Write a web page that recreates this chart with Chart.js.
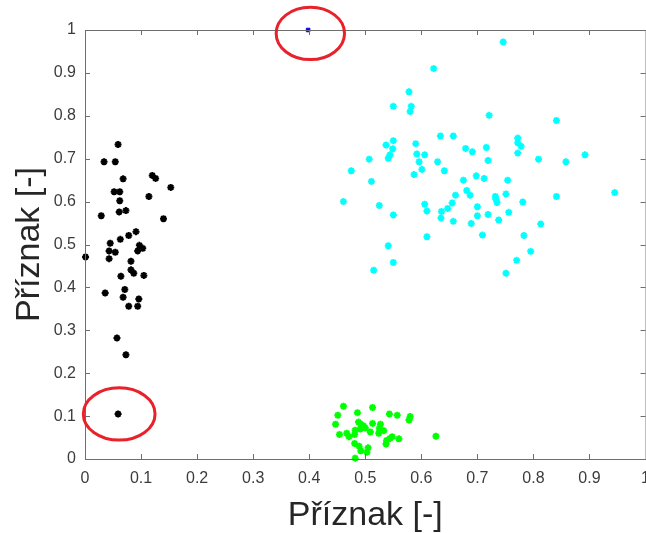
<!DOCTYPE html>
<html>
<head>
<meta charset="utf-8">
<script src="https://cdn.jsdelivr.net/npm/chart.js@4/dist/chart.umd.min.js"></script>
<style>
  html, body { margin: 0; padding: 0; background: #fff; overflow: hidden; }
  #wrap { width: 646px; height: 533px; overflow: hidden; }
</style>
</head>
<body>
<div id="wrap"><canvas id="graf" width="660" height="533"></canvas></div>
<script>
// cluster 1 (black)
const blackX = [0.059, 0.034, 0.054, 0.068, 0.120, 0.126, 0.153, 0.052, 0.062, 0.114,
  0.062, 0.029, 0.061, 0.073, 0.140, 0.091, 0.078, 0.063, 0.045, 0.097,
  0.103, 0.094, 0.043, 0.054, 0.001, 0.043, 0.082, 0.082, 0.087, 0.105,
  0.064, 0.071, 0.036, 0.068, 0.096, 0.078, 0.094, 0.057, 0.073, 0.059];
const blackY = [0.733, 0.693, 0.693, 0.653, 0.661, 0.654, 0.633, 0.623, 0.623, 0.612,
  0.602, 0.567, 0.576, 0.579, 0.560, 0.530, 0.521, 0.512, 0.503, 0.498,
  0.491, 0.485, 0.485, 0.482, 0.471, 0.467, 0.461, 0.441, 0.433, 0.428,
  0.426, 0.395, 0.387, 0.377, 0.373, 0.356, 0.356, 0.282, 0.243, 0.105];

// cluster 2 (cyan)
const cyanX = [0.746, 0.622, 0.578, 0.550, 0.582, 0.580, 0.721, 0.634, 0.657, 0.550,
  0.537, 0.590, 0.549, 0.679, 0.716, 0.691, 0.544, 0.541, 0.592, 0.606,
  0.507, 0.596, 0.629, 0.719, 0.475, 0.641, 0.601, 0.587, 0.698, 0.712,
  0.511, 0.675, 0.681, 0.661, 0.687, 0.732, 0.733, 0.735, 0.461, 0.655,
  0.525, 0.606, 0.647, 0.700, 0.610, 0.636, 0.550, 0.719, 0.700, 0.635,
  0.738, 0.657, 0.689, 0.610, 0.709, 0.541, 0.550, 0.515, 0.841, 0.772,
  0.772, 0.778, 0.772, 0.809, 0.858, 0.892, 0.754, 0.751, 0.781, 0.841,
  0.945, 0.756, 0.813, 0.783, 0.795, 0.770, 0.751];
const cyanY = [0.972, 0.910, 0.856, 0.822, 0.822, 0.810, 0.801, 0.753, 0.753, 0.742,
  0.732, 0.735, 0.723, 0.724, 0.726, 0.716, 0.709, 0.701, 0.711, 0.709,
  0.699, 0.693, 0.693, 0.696, 0.672, 0.672, 0.675, 0.663, 0.660, 0.654,
  0.647, 0.650, 0.626, 0.615, 0.615, 0.612, 0.606, 0.598, 0.600, 0.597,
  0.591, 0.594, 0.584, 0.588, 0.578, 0.577, 0.569, 0.570, 0.567, 0.562,
  0.557, 0.554, 0.549, 0.518, 0.522, 0.497, 0.458, 0.440, 0.789, 0.748,
  0.737, 0.729, 0.713, 0.699, 0.693, 0.709, 0.650, 0.618, 0.599, 0.612,
  0.621, 0.575, 0.548, 0.521, 0.484, 0.463, 0.433];

// cluster 3 (green)
const greenX = [0.461, 0.513, 0.451, 0.486, 0.543, 0.557, 0.580, 0.578, 0.447, 0.488,
  0.492, 0.497, 0.500, 0.513, 0.527, 0.525, 0.533, 0.509, 0.482, 0.491,
  0.524, 0.454, 0.467, 0.471, 0.481, 0.544, 0.548, 0.560, 0.538, 0.537,
  0.626, 0.481, 0.489, 0.492, 0.505, 0.503, 0.482];
const greenY = [0.123, 0.120, 0.102, 0.108, 0.105, 0.102, 0.099, 0.091, 0.081, 0.086,
  0.081, 0.077, 0.072, 0.083, 0.081, 0.071, 0.066, 0.063, 0.067, 0.070,
  0.060, 0.057, 0.060, 0.052, 0.057, 0.048, 0.052, 0.047, 0.043, 0.035,
  0.053, 0.036, 0.030, 0.019, 0.026, 0.016, 0.002];

// single outlier (blue)
const blueX = [0.398];
const blueY = [1.0];

// circled points: centre and half-axes in data units
const ringX = [0.402, 0.061];
const ringY = [0.992, 0.105];
const ringRx = [0.061, 0.064];
const ringRy = [0.061, 0.061];

const xTickLabels = ['0', '0.1', '0.2', '0.3', '0.4', '0.5', '0.6', '0.7', '0.8', '0.9', '1'];
const yTickLabels = ['0', '0.1', '0.2', '0.3', '0.4', '0.5', '0.6', '0.7', '0.8', '0.9', '1'];
const axisTitle = 'Příznak [-]';

const pts = (xs, ys) => xs.map((v, i) => ({ x: v, y: ys[i] }));

const AXIS = '#6e6e6e';
const TEXT = '#3c3c3c';

// box round the plot, inward ticks and the red rings
const boxPlugin = {
  id: 'boxPlugin',
  afterDatasetsDraw(chart) {
    const { ctx, chartArea: a, scales: { x, y } } = chart;
    ctx.save();
    ctx.strokeStyle = AXIS;
    ctx.lineWidth = 1;
    ctx.strokeRect(a.left + 0.5, a.top + 0.5, a.right - a.left, a.bottom - a.top);
    ctx.beginPath();
    x.ticks.forEach(t => {
      const px = Math.round(x.getPixelForValue(t.value)) + 0.5;
      ctx.moveTo(px, a.bottom); ctx.lineTo(px, a.bottom - 5);
      ctx.moveTo(px, a.top); ctx.lineTo(px, a.top + 5);
    });
    y.ticks.forEach(t => {
      const py = Math.round(y.getPixelForValue(t.value)) + 0.5;
      ctx.moveTo(a.left, py); ctx.lineTo(a.left + 5, py);
      ctx.moveTo(a.right, py); ctx.lineTo(a.right - 5, py);
    });
    ctx.stroke();

    ctx.strokeStyle = '#e8212a';
    ctx.lineWidth = 3;
    ringX.forEach((cx, i) => {
      const px = x.getPixelForValue(cx);
      const py = y.getPixelForValue(ringY[i]);
      const rx = x.getPixelForValue(cx + ringRx[i]) - px;
      const ry = py - y.getPixelForValue(ringY[i] + ringRy[i]);
      ctx.beginPath();
      ctx.ellipse(px, py, rx, ry, 0, 0, Math.PI * 2);
      ctx.stroke();
    });
    ctx.restore();
  }
};

const marker = color => ({
  pointStyle: 'star',
  pointRadius: 3.5,
  pointBorderWidth: 2,
  borderColor: color,
  backgroundColor: color,
  pointHoverRadius: 3.5,
  clip: false
});

new Chart(document.getElementById('graf'), {
  type: 'scatter',
  data: {
    datasets: [
      { label: 'black', data: pts(blackX, blackY), ...marker('#000000') },
      { label: 'cyan', data: pts(cyanX, cyanY), ...marker('#00ffff') },
      { label: 'green', data: pts(greenX, greenY), ...marker('#00ff00') },
      { label: 'blue', data: pts(blueX, blueY), pointStyle: 'rect', pointRadius: 2.5,
        pointBorderWidth: 1, borderColor: '#0000ff', backgroundColor: '#0000ff', clip: false }
    ]
  },
  options: {
    responsive: false,
    animation: false,
    events: [],
    layout: { padding: { top: 30, right: 14, left: 0, bottom: 0 } },
    plugins: { legend: { display: false }, tooltip: { enabled: false } },
    scales: {
      x: {
        type: 'linear',
        min: 0,
        max: 1,
        afterFit: s => { s.height = 74; },
        afterBuildTicks: s => { s.ticks = xTickLabels.map(v => ({ value: parseFloat(v) })); },
        ticks: {
          padding: 10,
          color: TEXT,
          font: { family: 'Liberation Sans', size: 16 },
          callback: (v, i) => xTickLabels[i]
        },
        grid: { drawOnChartArea: false, drawTicks: false },
        border: { color: AXIS },
        title: {
          display: true,
          text: axisTitle,
          color: '#262626',
          font: { family: 'Liberation Sans', size: 34, lineHeight: 1.0 },
          padding: { top: 0, bottom: 0 }
        }
      },
      y: {
        type: 'linear',
        min: 0,
        max: 1,
        afterFit: s => { s.width = 85; },
        afterBuildTicks: s => { s.ticks = yTickLabels.map(v => ({ value: parseFloat(v) })); },
        ticks: {
          padding: 9,
          color: TEXT,
          font: { family: 'Liberation Sans', size: 16 },
          callback: (v, i) => yTickLabels[i]
        },
        grid: { drawOnChartArea: false, drawTicks: false },
        border: { color: AXIS },
        title: {
          display: true,
          text: axisTitle,
          color: '#262626',
          font: { family: 'Liberation Sans', size: 34, lineHeight: 1.0 },
          padding: { top: 13, bottom: 0 }
        }
      }
    }
  },
  plugins: [boxPlugin]
});
</script>
</body>
</html>
